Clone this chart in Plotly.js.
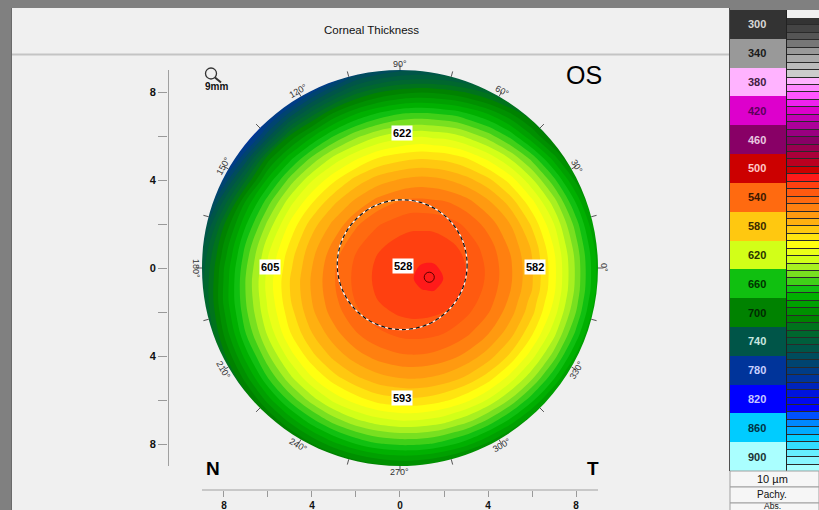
<!DOCTYPE html>
<html><head><meta charset="utf-8">
<script src="https://cdn.plot.ly/plotly-3.0.1.min.js"></script>
<style>html,body{margin:0;padding:0;background:#f0f0f0;overflow:hidden}#chart{width:819px;height:510px}</style>
</head><body><div id="chart"></div>
<script>
// ---- data (corneal thickness in µm on a mm grid) ----
const gridX = [-9,-8,-7,-6,-5,-4,-3,-2,-1,0,0.5,1,1.5,2,2.5,3,4,5,6,7,8,9];
const gridY = [-9,-8,-7,-6,-5,-4,-3,-2,-1.5,-1,-0.5,0,0.5,1,2,3,4,5,6,7,8,9];
const thickness = [
 [918,871,831,796,767,743,725,712,704,700,700,702,705,709,714,721,738,760,789,823,863,909],
 [873,828,788,753,724,701,683,670,661,658,658,659,661,665,670,676,693,714,742,775,815,860],
 [836,790,750,716,688,665,647,634,626,622,622,623,625,628,633,638,654,675,701,734,772,817],
 [804,758,719,685,657,635,617,605,596,593,592,593,595,598,602,607,621,641,667,698,736,780],
 [779,733,694,660,633,611,594,582,573.8,569.8,569.2,569.7,571.2,573.7,577.3,581.9,595,614,638,669,706,749],
 [759,713,675,642,615,593,576.7,564.3,556,551.6,550.9,551.2,552.5,554.9,558.3,562.7,574.8,592,616,645,682,724],
 [744,699,660,628,601,580.5,564,551,542.4,537.7,536.8,537,538.1,540.3,543.6,547.9,559.8,576,599,627,663,705],
 [736,691,652,620,594,572,555,542,533.1,528.1,527,527,528,530.1,533.2,537.5,549,565.5,587,615,650,692],
 [734,688,650,618,591,570,552.6,539.3,530.1,524.9,523.8,523.7,524.6,526.6,529.7,533.9,545.6,562,584,611,646,688],
 [733,688,649,616,590,568.7,551.1,537.6,528.1,522.7,521.8,520.2,519.5,522,527.1,531.4,543.2,559.4,580,608,643,684],
 [734,689,649,616,590,568.5,550.7,537,527.3,521.5,521.2,516.5,516,520.3,525.6,530.1,541.9,558,579,607,642,683],
 [736,690,651,618,592,570,551,537.5,527.6,521.7,521.5,519,518.5,521.5,525.6,530.1,541.8,558,579,607,642,683],
 [739,694,654,620,594,572,553,539,529.1,523.1,521.6,521.8,522,523.5,526.9,531.2,543,559,580,608,643,684],
 [744,698,658,624,598,575,557,542,532,525.7,524.2,523.7,524.4,526.4,529.5,533.6,545,562,582,611,646,687],
 [762,711,671,637,608,585,567,552,541,535,533,533,533,535,538,542,554,570,592,620,655,697],
 [787,736,688,654,624,601,582,567,556,549,547,547,548,549,552,556,568,584,607,635,671,713],
 [804,769,720,677,646,621,602,586,575,569,567,566,567,569,572,576,587,604,628,657,693,736],
 [836,804,757,705,674,648,627,612,600,594,592,591,592,593,596,600,613,631,654,685,722,765],
 [875,839,797,753,708,682,660,643,631,624,622,621,623,624,627,632,645,663,689,720,756,800],
 [899,853,812,790,756,724,697,680,668,660,658,658,659,661,663,668,680,698,720,749,783,822],
 [947,899,858,837,804,772,746,724,711,704,702,701,702,704,707,711,723,741,764,793,827,867],
 [999,953,910,873,840,823,800,773,761,753,751,751,751,753,756,761,773,791,815,843,878,917]
];
const levels = [300,310,320,330,340,350,360,370,380,390,400,410,420,430,440,450,460,470,480,490,
  500,510,520,530,540,550,560,570,580,590,600,610,620,630,640,650,660,670,680,690,
  700,710,720,730,740,750,760,770,780,790,800,810,820,830,840,850,860,870,880,890,900];
const bandColors = ['#333333','#444444','#555555','#777777','#999999','#aaaaaa','#bbbbbb','#cccccc',
  '#ffb3ff','#ff88ff','#ff55ff','#ee22ee','#dd00cc','#c400b4','#ad009a','#990080','#880066','#990050',
  '#aa003a','#bb0020','#cc0000','#ff1a1a','#ff4010','#ff5a10','#ff6a10','#ff8010','#ff9a10','#ffb010',
  '#ffc810','#ffe410','#ffff10','#eaff18','#d2ff18','#a8f020','#78e020','#40d018','#10c010','#00b000',
  '#00a000','#009000','#008200','#00731c','#00672e','#005e3c','#005548','#004c5c','#004470','#003c86',
  '#00349a','#0024bb','#0014dd','#0008f0','#0000ff','#0050ff','#0088ff','#00aaff','#00ccff','#33ddff',
  '#66eeff','#88f6ff','#aaffff'];
const blockValues = [300,340,380,420,460,500,540,580,620,660,700,740,780,820,860,900];
const blockTextColors = ['#d8d8d8','#1a1a1a','#402040','#5a005a','#e8c8e0','#ffc8c8','#3a1800','#3a2a00',
  '#2a3300','#003300','#002a00','#c8e8e0','#c8d0ff','#c8c8ff','#003344','#1a3333'];
const pointValues = [622,605,528,582,593];
const pointX = [0.1,-5.9,0.15,6.15,0.1];
const pointY = [6.15,0.05,0.1,0.05,-5.9];
const angleLabels = [0,30,60,90,120,150,180,210,240,270,300,330];
const angleTicks = [0,15,30,45,60,75,90,105,120,135,150,165,180,195,210,225,240,255,270,285,300,315,330,345];
const axisTicks = [-8,-6,-4,-2,0,2,4,6,8];
const axisTickText = ['8','','4','','0','','4','','8'];
const thinnest = {x:1.33, y:-0.42};
const zoneCenter = {x:0.1, y:0.15}, zoneRadius = 2.95;
const mapRadius = 9;
const bottomRows = ['10 µm','Pachy.','Abs.'];

// ---- colour scales ----
const contourScale = [[0, bandColors[0]]].concat(levels.map((v,i)=>[(v-290)/610, bandColors[i]]));
const legendScale = levels.map((v,i)=>[(v-300)/600, bandColors[i]]);

const W = 819, H = 510;
const px = v => v / W, py = v => 1 - v / H;

const traces = [
 {type:'contour', x:gridX, y:gridY, z:thickness, xaxis:'x', yaxis:'y',
  autocontour:false, contours:{start:300, end:900, size:10, coloring:'fill', showlines:false},
  line:{width:0, smoothing:1}, colorscale:contourScale, showscale:false, hoverinfo:'skip'},
 {type:'heatmap', x:[0], y:blockValues, z:blockValues.map(v=>[v]), xaxis:'x2', yaxis:'y2',
  colorscale:legendScale, zmin:300, zmax:900, showscale:false, hoverinfo:'skip'},
 {type:'heatmap', x:[0], y:levels, z:levels.map(v=>[v]), xaxis:'x3', yaxis:'y3', ygap:1,
  colorscale:legendScale, zmin:300, zmax:900, showscale:false, hoverinfo:'skip'}
];

const R = mapRadius, k = 0.5523 * R;
const maskPath = `M -9.6,-9.6 L 9.6,-9.6 L 9.6,9.6 L -9.6,9.6 Z ` +
  `M ${R},0 C ${R},${k} ${k},${R} 0,${R} C ${-k},${R} ${-R},${k} ${-R},0 ` +
  `C ${-R},${-k} ${-k},${-R} 0,${-R} C ${k},${-R} ${R},${-k} ${R},0 Z`;

const shapes = [
 {type:'rect', xref:'paper', yref:'paper', x0:0, x1:1, y0:py(8), y1:1, fillcolor:'#808080', line:{width:0}},
 {type:'rect', xref:'paper', yref:'paper', x0:0, x1:px(11), y0:0, y1:1, fillcolor:'#808080', line:{width:0}},
 {type:'line', xref:'paper', yref:'paper', x0:px(11.5), x1:px(11.5), y0:0, y1:py(8), line:{color:'#6a6a6a', width:1}},
 {type:'line', xref:'paper', yref:'paper', x0:px(12), x1:px(729), y0:py(54.5), y1:py(54.5), line:{color:'#c4c4c4', width:2}},
 {type:'rect', xref:'paper', yref:'paper', x0:px(729), x1:1, y0:py(10), y1:py(8), fillcolor:'#808080', line:{width:0}},
 {type:'line', xref:'paper', yref:'paper', x0:px(729.5), x1:px(729.5), y0:py(471), y1:py(8), line:{color:'#505050', width:1}},
 {type:'rect', xref:'paper', yref:'paper', layer:'below', x0:px(787), x1:1, y0:py(472), y1:py(18), fillcolor:'#2a2a2a', line:{width:0}},
 {type:'line', xref:'paper', yref:'paper', x0:px(786.5), x1:px(786.5), y0:py(471), y1:py(10), line:{color:'#222', width:1}},
 {type:'path', xref:'x', yref:'y', path:maskPath, fillcolor:'#f0f0f0', line:{width:0}},
 {type:'circle', xref:'x', yref:'y', x0:zoneCenter.x-zoneRadius, x1:zoneCenter.x+zoneRadius,
  y0:zoneCenter.y-zoneRadius, y1:zoneCenter.y+zoneRadius, line:{color:'#ffffff', width:1.2}},
 {type:'circle', xref:'x', yref:'y', x0:zoneCenter.x-zoneRadius, x1:zoneCenter.x+zoneRadius,
  y0:zoneCenter.y-zoneRadius, y1:zoneCenter.y+zoneRadius, line:{color:'#111', width:1.2, dash:'4px,3px'}},
 {type:'circle', xref:'x', yref:'y', x0:thinnest.x-0.23, x1:thinnest.x+0.23, y0:thinnest.y-0.23, y1:thinnest.y+0.23,
  line:{color:'#5a0000', width:1}},
 {type:'line', xref:'paper', yref:'y', x0:px(168.5), x1:px(168.5), y0:-9, y1:9, line:{color:'#a0a0a0', width:1}},
 {type:'line', xref:'x', yref:'paper', x0:-9, x1:9, y0:py(490), y1:py(490), line:{color:'#a0a0a0', width:1}},
 {type:'circle', xref:'paper', yref:'paper', x0:px(205.5), x1:px(216.5), y0:py(79), y1:py(68), line:{color:'#333', width:1.3}},
 {type:'line', xref:'paper', yref:'paper', x0:px(215), x1:px(221), y0:py(77.5), y1:py(82.5), line:{color:'#333', width:2}}
];
angleTicks.forEach(a => {
  const t = a * Math.PI / 180;
  shapes.push({type:'line', xref:'x', yref:'y', x0:9.0*Math.cos(t), y0:9.0*Math.sin(t),
    x1:9.25*Math.cos(t), y1:9.25*Math.sin(t), line:{color:'#555', width:1}});
});
bottomRows.forEach((s,i) => {
  shapes.push({type:'rect', xref:'paper', yref:'paper', x0:px(730), x1:1, y0:py(487+16*i), y1:py(471+16*i),
    fillcolor:'#f6f6f6', line:{color:'#a0a0a0', width:1}});
});

const C = {xanchor:'center', yanchor:'middle', showarrow:false};
const annotations = [
 Object.assign({text:'Corneal Thickness', xref:'paper', yref:'paper', x:px(371), y:py(30),
  font:{size:11.5, color:'#111'}}, C),
 Object.assign({text:'OS', xref:'paper', yref:'paper', x:px(584), y:py(75), font:{size:25, color:'#000'}}, C),
 Object.assign({text:'N', xref:'paper', yref:'paper', x:px(212.5), y:py(468), font:{size:19, color:'#000', weight:'bold'}}, C),
 Object.assign({text:'T', xref:'paper', yref:'paper', x:px(592.5), y:py(468), font:{size:19, color:'#000', weight:'bold'}}, C),
 Object.assign({text:'9mm', xref:'paper', yref:'paper', x:px(216.5), y:py(86.5), font:{size:10, color:'#111', weight:'bold'}}, C)
];
angleLabels.forEach(a => {
  const t = a * Math.PI / 180;
  annotations.push(Object.assign({text:a + '°', xref:'x', yref:'y', x:9.27*Math.cos(t), y:9.27*Math.sin(t),
    textangle: a < 180 ? 90 - a : 270 - a, font:{size:9, color:'#333'}}, C));
});
pointValues.forEach((v,i) => {
  annotations.push(Object.assign({text:String(v), xref:'x', yref:'y', x:pointX[i], y:pointY[i],
    bgcolor:'#ffffff', borderpad:1, font:{size:11, color:'#000', weight:'bold'}}, C));
});
blockValues.forEach((v,i) => {
  annotations.push(Object.assign({text:String(v), xref:'paper', yref:'y2', x:px(757), y:v,
    font:{size:11, color:blockTextColors[i], weight:'bold'}}, C));
});
const rowY = [479, 494.5, 505.5], rowSize = [11, 10, 8.5];
bottomRows.forEach((s,i) => {
  annotations.push(Object.assign({text:s, xref:'paper', yref:'paper', x:px(772), y:py(rowY[i]),
    font:{size:rowSize[i], color:'#111'}}, C));
});

const layout = {
  width:W, height:H, margin:{l:0,r:0,t:0,b:0}, paper_bgcolor:'#f0f0f0', plot_bgcolor:'rgba(0,0,0,0)',
  showlegend:false, font:{family:'Liberation Sans, Arial, sans-serif', color:'#111'},
  xaxis:{domain:[px(168), px(728)], range:[-10.545, 14.909], tickvals:axisTicks, ticktext:axisTickText,
    ticks:'outside', ticklen:6, tickcolor:'#999', showgrid:false, zeroline:false, showline:false,
    tickfont:{size:10, color:'#111', weight:'bold'}, fixedrange:true, anchor:'y'},
  yaxis:{domain:[1-490/H, 1-56/H], range:[-10.0909, 9.6364], tickvals:axisTicks, ticktext:axisTickText,
    ticks:'outside', ticklen:9, tickcolor:'#999', showgrid:false, zeroline:false, showline:false,
    tickfont:{size:11, color:'#111', weight:'bold'}, fixedrange:true, anchor:'x'},
  xaxis2:{domain:[px(730), px(786)], range:[-0.5,0.5], visible:false, anchor:'y2', fixedrange:true},
  yaxis2:{domain:[1-471/H, 1-10/H], range:[920,280], visible:false, anchor:'x2', fixedrange:true},
  xaxis3:{domain:[px(787), 1], range:[-0.5,0.5], visible:false, anchor:'y3', fixedrange:true},
  yaxis3:{domain:[1-472/H, 1-18/H], range:[905,295], visible:false, anchor:'x3', fixedrange:true},
  shapes:shapes, annotations:annotations
};
Plotly.newPlot('chart', traces, layout, {displayModeBar:false, staticPlot:true});
</script></body></html>
